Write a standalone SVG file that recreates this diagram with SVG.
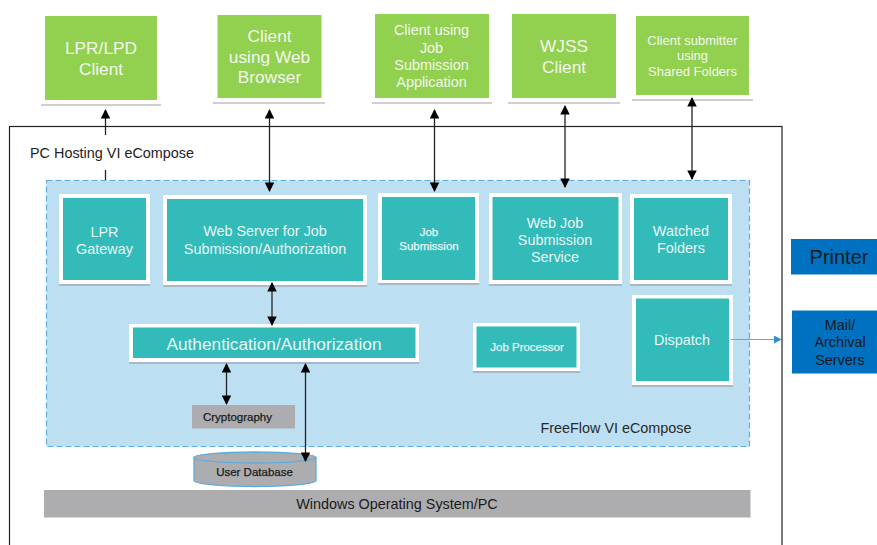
<svg xmlns="http://www.w3.org/2000/svg" width="877" height="545" viewBox="0 0 877 545">
<style>
text{font-family:"Liberation Sans",Arial,sans-serif;text-anchor:middle}
.g{fill:#92d050}
.gl{fill:#f2f7ec}
.sh{stroke:#cfcfcf;stroke-width:2;fill:none}
.f{fill:#fff}
.s{fill:#a9b8c4}
.t{fill:#33bbb9}
.w{fill:#e6f6f5}
.k{fill:#1a1a1a}
.m{stroke-width:.25}
.c{stroke:#222;stroke-width:1.3;fill:none;marker-start:url(#a);marker-end:url(#a)}
.b{fill:#0070c0}
.gr{fill:#adadb0}
</style>
<defs>
<marker id="a" viewBox="0 0 10 10" refX="9" refY="5" markerWidth="9.500" markerHeight="9.500" markerUnits="userSpaceOnUse" orient="auto-start-reverse"><path d="M0 0L10 5L0 10Z" fill="#000"/></marker>
<marker id="e" viewBox="0 0 10 10" refX="9" refY="5" markerWidth="8" markerHeight="8" markerUnits="userSpaceOnUse" orient="auto"><path d="M0 0L10 5L0 10Z" fill="#2e90d8"/></marker>
</defs>
<rect width="877" height="545" fill="#fff"/>
<g id="host"><rect x="9.5" y="126.5" width="772.5" height="430" fill="#fff" stroke="#222" stroke-width="1.2"/><text x="112" y="158" font-size="14.400" fill="#222">PC Hosting VI eCompose</text></g>
<g id="ecompose"><rect x="46.5" y="180.5" width="703" height="266" fill="#bddff2" stroke="#5cb0e6" stroke-width="1.2" stroke-dasharray="6 3"/><text x="616" y="432.500" font-size="14.400" fill="#2a2a2a">FreeFlow VI eCompose</text></g>

<g id="lpr-client"><rect class="g" x="45" y="16" width="112" height="84"/><path class="sh" d="M41 105H161"/><text class="gl" font-size="17.300"><tspan x="101" y="54">LPR/LPD</tspan><tspan x="101" y="75">Client</tspan></text></g>
<g id="web-client"><rect class="g" x="217.5" y="15" width="104" height="83"/><path class="sh" d="M213 103H325"/><text class="gl" font-size="17.300"><tspan x="269.500" y="42">Client</tspan><tspan x="269.500" y="63">using Web</tspan><tspan x="269.500" y="83">Browser</tspan></text></g>
<g id="job-client"><rect class="g" x="375" y="14" width="114" height="84"/><path class="sh" d="M372 103H492"/><text class="gl" font-size="14.400"><tspan x="431.500" y="35">Client using</tspan><tspan x="431.500" y="52.500">Job</tspan><tspan x="431.500" y="70">Submission</tspan><tspan x="431.500" y="87">Application</tspan></text></g>
<g id="wjss-client"><rect class="g" x="512" y="14" width="104" height="84"/><path class="sh" d="M508 103H620"/><text class="gl" font-size="17.300"><tspan x="564" y="52">WJSS</tspan><tspan x="564" y="73">Client</tspan></text></g>
<g id="shared-client"><rect class="g" x="636" y="16" width="113" height="79"/><path class="sh" d="M632 100H753"/><text class="gl" font-size="13"><tspan x="692.500" y="45">Client submitter</tspan><tspan x="692.500" y="60">using</tspan><tspan x="692.500" y="76">Shared Folders</tspan></text></g>

<g id="lpr-gateway"><rect class="s" x="59" y="196" width="91" height="90"/><rect class="f" x="59" y="194" width="91" height="90"/><rect class="t" x="63" y="198" width="83" height="82"/><text class="w" font-size="14.400"><tspan x="104.500" y="237">LPR</tspan><tspan x="104.500" y="254">Gateway</tspan></text></g>
<g id="web-server"><rect class="s" x="163" y="197" width="204" height="90"/><rect class="f" x="163" y="195" width="204" height="90"/><rect class="t" x="167" y="199" width="196" height="82"/><text class="w" font-size="14.400"><tspan x="265" y="236">Web Server for Job</tspan><tspan x="265" y="254">Submission/Authorization</tspan></text></g>
<g id="job-submission"><rect class="s" x="378" y="195" width="101" height="90"/><rect class="f" x="378" y="193" width="101" height="90"/><rect class="t" x="382" y="197" width="93" height="83"/><text class="w m" stroke="#e6f6f5" font-size="11.500"><tspan x="429" y="236">Job</tspan><tspan x="429" y="250">Submission</tspan></text></g>
<g id="web-job-service"><rect class="s" x="489" y="195" width="133" height="91"/><rect class="f" x="489" y="193" width="133" height="91"/><rect class="t" x="492.500" y="197" width="126" height="83"/><text class="w" font-size="14.400"><tspan x="555" y="227.500">Web Job</tspan><tspan x="555" y="244.500">Submission</tspan><tspan x="555" y="262">Service</tspan></text></g>
<g id="watched-folders"><rect class="s" x="630" y="196" width="102" height="90"/><rect class="f" x="630" y="194" width="102" height="90"/><rect class="t" x="634" y="198" width="94" height="82"/><text class="w" font-size="14.400"><tspan x="681" y="236">Watched</tspan><tspan x="681" y="253">Folders</tspan></text></g>
<g id="auth"><rect class="s" x="129" y="326" width="290" height="38"/><rect class="f" x="129" y="324" width="290" height="38"/><rect class="t" x="133" y="327.500" width="282.500" height="30.500"/><text class="w" x="274" y="349.500" font-size="17.300">Authentication/Authorization</text></g>
<g id="job-processor"><rect class="s" x="473" y="325" width="107" height="48"/><rect class="f" x="473" y="323" width="107" height="48"/><rect class="t" x="476.500" y="326.500" width="100" height="41"/><text class="w m" stroke="#e6f6f5" x="527" y="350.500" font-size="11.500">Job Processor</text></g>
<g id="dispatch"><rect class="s" x="632" y="297" width="101" height="90"/><rect class="f" x="632" y="295" width="101" height="90"/><rect class="t" x="636" y="298.500" width="93" height="82.500"/><text class="w" x="682" y="345" font-size="14.400">Dispatch</text></g>
<g id="cryptography"><rect class="gr" x="192" y="405" width="103" height="23.500"/><text class="k m" stroke="#1a1a1a" x="237.500" y="421" font-size="11.500">Cryptography</text></g>
<g id="user-database"><path d="M194 458V480.500C194 484 225 486.500 255 486.500S316 484 316 480.500V458Z" fill="#adadb0" stroke="#5cacde" stroke-width="1.300"/><ellipse cx="255" cy="457.500" rx="61" ry="5.500" fill="#adadb0" stroke="#5cacde" stroke-width="1.300"/><text class="k m" stroke="#1a1a1a" x="254.500" y="476" font-size="11.500">User Database</text></g>
<g id="os"><rect class="gr" x="44" y="490" width="706.500" height="27.500"/><text class="k" x="397" y="509" font-size="14.400">Windows Operating System/PC</text></g>
<g id="printer"><rect class="b" x="791" y="239" width="86" height="35.500"/><text class="k" x="839" y="264" font-size="20">Printer</text></g>
<g id="mail"><rect class="b" x="792" y="310.500" width="85" height="63"/><text class="k" font-size="14.400"><tspan x="840" y="330">Mail/</tspan><tspan x="840" y="347">Archival</tspan><tspan x="840" y="365">Servers</tspan></text></g>

<g id="connectors">
<path d="M105.500 135V110" stroke="#222" stroke-width="1.300" fill="none" marker-end="url(#a)"/>
<path d="M105.500 170V180" stroke="#222" stroke-width="1.300" fill="none"/>
<path class="c" d="M269.500 110V191"/>
<path class="c" d="M434.500 110V191"/>
<path class="c" d="M565 106V187"/>
<path class="c" d="M692 98V179"/>
<path class="c" d="M272 283V325"/>
<path class="c" d="M226.500 364V404"/>
<path class="c" d="M305.500 364V461"/>
<path d="M731 339.500H781" stroke="#5fa8dc" stroke-width="1.200" fill="none" marker-end="url(#e)"/>
</g>
</svg>
